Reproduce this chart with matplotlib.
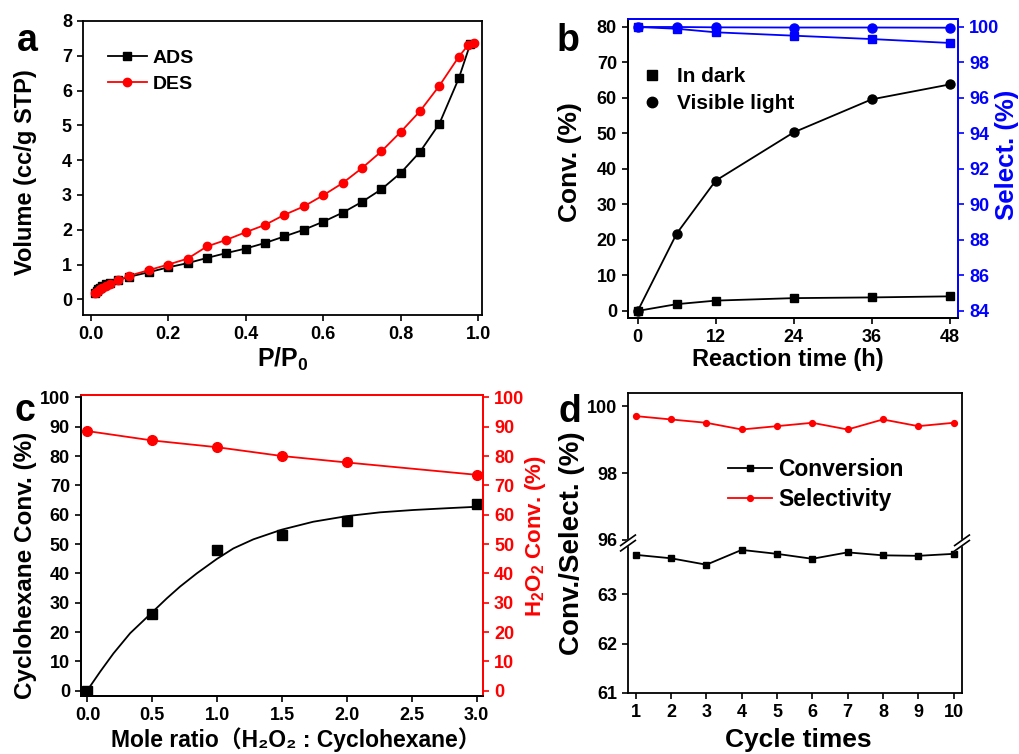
"""
Four-panel catalyst figure: N2 isotherm, time course, H2O2 ratio and recycling test.
"""
import numpy as np
import matplotlib
matplotlib.use('Agg')
import matplotlib.pyplot as plt

plt.rcParams['font.family'] = ['Liberation Sans', 'DejaVu Sans', 'Noto Sans CJK SC']
plt.rcParams['font.weight'] = 'bold'
plt.rcParams['axes.labelweight'] = 'bold'
plt.rcParams['mathtext.default'] = 'regular'
plt.rcParams['axes.linewidth'] = 1.3
plt.rcParams['xtick.major.width'] = 1.2
plt.rcParams['ytick.major.width'] = 1.2
plt.rcParams['xtick.major.size'] = 4.5
plt.rcParams['ytick.major.size'] = 4.5
plt.rcParams['xtick.labelsize'] = 13
plt.rcParams['ytick.labelsize'] = 13

RED = '#FF0000'
BLUE = '#0000FF'

# (a) N2 adsorption / desorption isotherm
p_ads = [0.01, 0.015, 0.02, 0.025, 0.03, 0.04, 0.05, 0.07,
         0.1, 0.15, 0.2, 0.25, 0.3, 0.35, 0.4, 0.45, 0.5, 0.55, 0.6,
         0.65, 0.7, 0.75, 0.8, 0.85, 0.9, 0.95, 0.98]
v_ads = [0.18, 0.24, 0.30, 0.34, 0.38, 0.44, 0.48, 0.55,
         0.65, 0.78, 0.92, 1.04, 1.19, 1.33, 1.46, 1.62, 1.81, 2.00, 2.23,
         2.49, 2.80, 3.16, 3.63, 4.24, 5.05, 6.35, 7.35]
p_des = [0.01, 0.015, 0.02, 0.025, 0.03, 0.04, 0.05, 0.07,
         0.1, 0.15, 0.2, 0.25, 0.3, 0.35, 0.4, 0.45, 0.5, 0.55, 0.6,
         0.65, 0.7, 0.75, 0.8, 0.85, 0.9, 0.95, 0.975, 0.99]
v_des = [0.17, 0.21, 0.25, 0.29, 0.33, 0.39, 0.44, 0.55,
         0.68, 0.84, 1.00, 1.17, 1.52, 1.71, 1.93, 2.14, 2.43, 2.67, 2.99,
         3.34, 3.77, 4.25, 4.81, 5.41, 6.14, 6.97, 7.32, 7.37]

# (b) conversion / selectivity vs reaction time
time_h = [0, 6, 12, 24, 36, 48]
conv_dark = [0.0, 1.9, 2.9, 3.6, 3.8, 4.1]
conv_light = [0.0, 21.8, 36.7, 50.3, 59.6, 63.8]
sel_dark = [100.0, 99.9, 99.7, 99.51, 99.32, 99.1]
sel_light = [100.0, 100.0, 99.98, 99.97, 99.97, 99.96]

# (c) effect of mole ratio
ratio = [0.0, 0.5, 1.0, 1.5, 2.0, 3.0]
cyc_conv = [0.0, 26.0, 48.0, 53.1, 57.8, 63.6]
h2o2_conv = [88.5, 85.3, 83.0, 80.0, 77.8, 73.6]
# fitted curve
fit_x = [0.0, 0.098, 0.2, 0.329, 0.496, 0.612, 0.714, 0.843, 0.997, 1.125,
         1.279, 1.498, 1.741, 1.998, 2.255, 2.512, 2.769, 3.0]
fit_y = [0.2, 6.5, 12.7, 19.6, 26.6, 31.5, 35.5, 40.0, 44.9, 48.5,
         51.6, 54.9, 57.6, 59.5, 60.8, 61.6, 62.2, 62.7]

# (d) recycling test
cycles = [1, 2, 3, 4, 5, 6, 7, 8, 9, 10]
cyc_conversion = [63.80, 63.73, 63.60, 63.90, 63.82, 63.72, 63.85, 63.79, 63.78, 63.82]
cyc_selectivity = [99.7, 99.6, 99.5, 99.3, 99.4, 99.5, 99.3, 99.6, 99.4, 99.5]

W, H = 1019, 754


def box(left, top, right, bottom):
    return [left / W, 1 - bottom / H, (right - left) / W, (bottom - top) / H]


fig = plt.figure(figsize=(W / 100, H / 100), dpi=100)

# ---- a ----
ax = fig.add_axes(box(83, 21, 482, 315))
ax.plot(p_ads, v_ads, '-s', color='black', lw=1.3, ms=5.5, label='ADS')
ax.plot(p_des, v_des, '-o', color=RED, lw=1.3, ms=6, label='DES')
ax.set_xlim(-0.02, 1.01)
ax.set_ylim(-0.45, 8)
ax.set_xticks(np.arange(0, 1.01, 0.2))
ax.set_xticklabels(['0.0', '0.2', '0.4', '0.6', '0.8', '1.0'])
ax.set_yticks(range(0, 9))
ax.set_xlabel('P/P$_0$', fontsize=18)
ax.set_ylabel('Volume (cc/g STP)', fontsize=17)
ax.xaxis.set_label_coords(0.5, -0.105)
ax.yaxis.set_label_coords(-0.115, 0.486)
ax.legend(loc='upper left', bbox_to_anchor=(0.062, 0.905), frameon=False, fontsize=14,
          handlelength=2.0, handletextpad=0.3, labelspacing=0.45, borderpad=0, borderaxespad=0)

# ---- b ----
ax = fig.add_axes(box(628, 19, 958, 318))
ax.plot(time_h, conv_dark, '-s', color='black', lw=1.3, ms=6)
ax.plot(time_h, conv_light, '-o', color='black', lw=1.3, ms=6.5)
ax.set_xlim(-1.5, 49.3)
ax.set_ylim(-2, 82.25)
ax.set_xticks([0, 12, 24, 36, 48])
ax.set_yticks(range(0, 81, 10))
ax.set_xlabel('Reaction time (h)', fontsize=17)
ax.set_ylabel('Conv. (%)', fontsize=19)
ax.xaxis.set_label_coords(0.485, -0.1)
ax.yaxis.set_label_coords(-0.139, 0.52)
ax.spines['top'].set_color(BLUE)
ax.spines['right'].set_color(BLUE)
ax.plot([], [], 's', color='black', ms=7, label='In dark')
ax.plot([], [], 'o', color='black', ms=7.5, label='Visible light')
ax.legend(loc='upper left', bbox_to_anchor=(0.048, 0.84), frameon=False, fontsize=15,
          handlelength=0.8, handletextpad=0.8, labelspacing=0.4, borderpad=0, borderaxespad=0)

bx = ax.twinx()
bx.plot(time_h, sel_dark, '-s', color=BLUE, lw=1.3, ms=6)
bx.plot(time_h, sel_light, '-o', color=BLUE, lw=1.3, ms=6.5)
bx.set_ylim(84 + (-2) / 5, 84 + 82.25 / 5)
bx.set_yticks(range(84, 101, 2))
bx.tick_params(axis='y', colors=BLUE)
bx.spines['right'].set_color(BLUE)
bx.spines['top'].set_color(BLUE)
bx.set_ylabel('Select. (%)', fontsize=18.5, color=BLUE)
bx.yaxis.set_label_coords(1.112, 0.545)

# ---- c ----
ax = fig.add_axes(box(81, 395, 483, 696))
ax.plot(fit_x, fit_y, '-', color='black', lw=1.3)
ax.plot(ratio, cyc_conv, 's', color='black', ms=6.5)
ax.set_xlim(-0.05, 3.05)
ax.set_ylim(-1.8, 100.8)
ax.set_xticks(np.arange(0, 3.01, 0.5))
ax.set_xticklabels(['0.0', '0.5', '1.0', '1.5', '2.0', '2.5', '3.0'])
ax.set_yticks(range(0, 101, 10))
ax.set_xlabel('Mole ratio\uff08H\u2082O\u2082 : Cyclohexane\uff09', fontsize=16.5)
ax.set_ylabel('Cyclohexane Conv. (%)', fontsize=17.5)
ax.xaxis.set_label_coords(0.535, -0.103)
ax.yaxis.set_label_coords(-0.109, 0.435)
ax.spines['top'].set_color(RED)
ax.spines['right'].set_color(RED)

cx = ax.twinx()
cx.plot(ratio, h2o2_conv, '-o', color=RED, lw=1.3, ms=7)
cx.set_ylim(-1.8, 100.8)
cx.set_yticks(range(0, 101, 10))
cx.tick_params(axis='y', colors=RED)
cx.spines['right'].set_color(RED)
cx.spines['top'].set_color(RED)
cx.set_ylabel('H$_2$O$_2$ Conv. (%)', fontsize=16, color=RED)
cx.yaxis.set_label_coords(1.10, 0.53)

# ---- d (broken y axis) ----
top_ax = fig.add_axes(box(628, 393, 962, 543))
low_ax = fig.add_axes(box(628, 543, 962, 693))

top_ax.plot(cycles, cyc_selectivity, '-o', color=RED, lw=1.3, ms=4.2)
top_ax.set_ylim(95.91, 100.39)
top_ax.set_yticks([96, 98, 100])
top_ax.spines['bottom'].set_visible(False)
top_ax.tick_params(axis='x', bottom=False, labelbottom=False)

low_ax.plot(cycles, cyc_conversion, '-s', color='black', lw=1.3, ms=4.2)
low_ax.set_ylim(61, 64.04)
low_ax.set_yticks([61, 62, 63])
low_ax.spines['top'].set_visible(False)

for a_ in (top_ax, low_ax):
    a_.set_xlim(0.78, 10.24)
    a_.set_xticks(cycles)

low_ax.set_xlabel('Cycle times', fontsize=19)
low_ax.xaxis.set_label_coords(0.51, -0.233)

top_ax.plot([], [], '-s', color='black', lw=1.3, ms=4.2, label='Conversion')
top_ax.plot([], [], '-o', color=RED, lw=1.3, ms=4.2, label='Selectivity')
top_ax.legend(loc='upper left', bbox_to_anchor=(0.3, 0.565), frameon=False, fontsize=16.5,
              handlelength=1.9, handletextpad=0.3, labelspacing=0.28, borderpad=0, borderaxespad=0)

# break marks on both side spines
dx, dy, off = 0.022, 0.035, 0.018
for xs in (0, 1):
    gap = [xs - dx, xs + dx, xs + dx, xs - dx]
    gy = [1 - dy - off, 1 + dy - off, 1 + dy + off, 1 - dy + off]
    low_ax.fill(gap, gy, color='white', transform=low_ax.transAxes, clip_on=False, zorder=5)
    for o in (-off, off):
        low_ax.plot([xs - dx, xs + dx], [1 - dy + o, 1 + dy + o], color='black', lw=1.2,
                    transform=low_ax.transAxes, clip_on=False, zorder=6)

fig.text(572 / W, 1 - 543 / H, 'Conv./Select. (%)', rotation=90, ha='center', va='center',
         fontsize=20, fontweight='bold')

# panel letters
for letter, x, y in [('a', 17, 51), ('b', 557, 51), ('c', 14, 421), ('d', 559, 422)]:
    fig.text(x / W, 1 - y / H, letter, fontsize=27, fontweight='bold', ha='left', va='baseline')

fig.savefig('out.png', dpi=100)
